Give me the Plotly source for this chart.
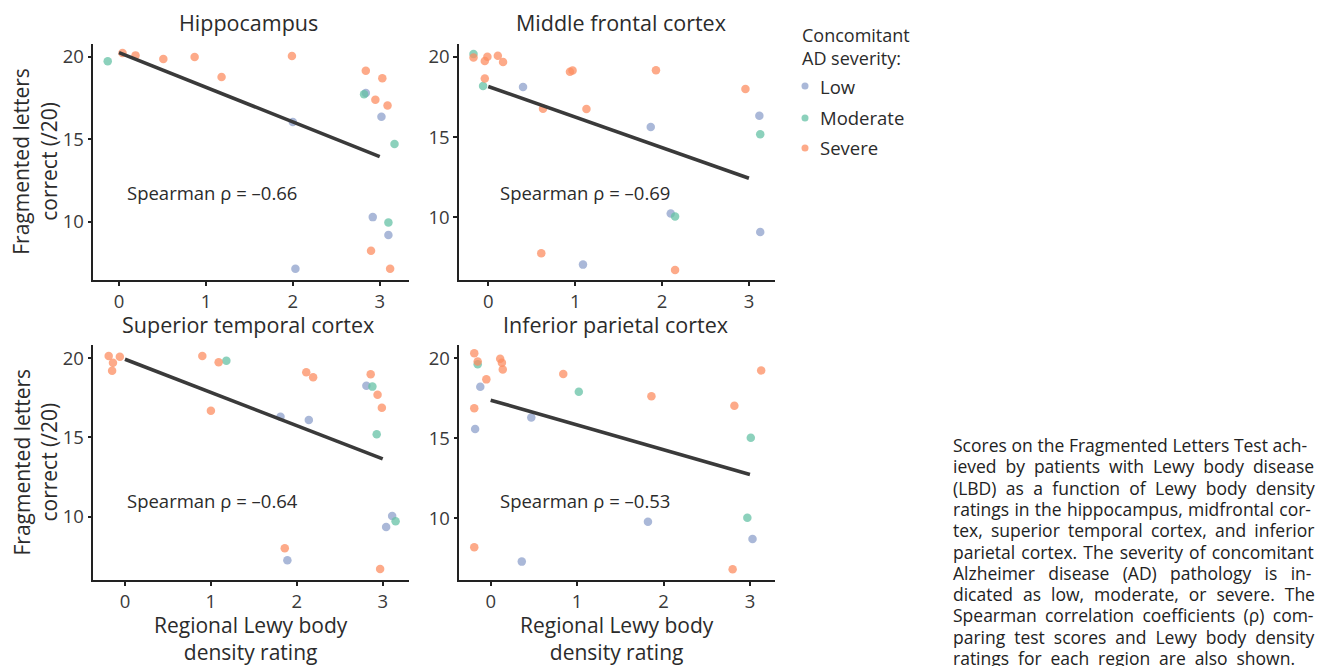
import plotly.graph_objects as go

# ---------------- data ----------------
panel_titles = ["Hippocampus", "Middle frontal cortex",
                "Superior temporal cortex", "Inferior parietal cortex"]
spearman_labels = ["Spearman ρ = –0.66", "Spearman ρ = –0.69",
                   "Spearman ρ = –0.64", "Spearman ρ = –0.53"]
severity_levels = ["Low", "Moderate", "Severe"]

hip_x = [-0.13, 0.04, 0.19, 0.51, 0.87, 1.18, 1.99, 2.00, 2.84, 3.03, 2.82,
         2.84, 2.95, 3.09, 3.02, 3.17, 2.92, 3.10, 3.10, 2.90, 2.03, 3.12]
hip_y = [19.72, 20.22, 20.08, 19.86, 19.98, 18.77, 20.04, 16.04, 19.15, 18.69, 17.72,
         17.80, 17.39, 17.05, 16.36, 14.71, 10.28, 9.96, 9.19, 8.24, 7.15, 7.15]
hip_sev = ["Moderate", "Severe", "Severe", "Severe", "Severe", "Severe", "Severe", "Low",
           "Severe", "Severe", "Moderate", "Low", "Severe", "Severe", "Low", "Moderate",
           "Low", "Moderate", "Low", "Severe", "Low", "Severe"]

mfc_x = [-0.17, -0.17, -0.01, -0.04, 0.11, 0.17, -0.04, -0.06, 0.40, 0.94, 0.97, 1.93,
         0.63, 1.13, 1.87, 2.96, 3.12, 3.13, 2.10, 2.15, 3.13, 0.61, 1.09, 2.15]
mfc_y = [20.19, 19.96, 20.02, 19.75, 20.08, 19.69, 18.65, 18.19, 18.13, 19.08, 19.15, 19.17,
         16.77, 16.75, 15.63, 18.00, 16.33, 15.17, 10.23, 10.04, 9.08, 7.75, 7.04, 6.71]
mfc_sev = ["Moderate", "Severe", "Severe", "Severe", "Severe", "Severe", "Severe", "Moderate",
           "Low", "Severe", "Severe", "Severe", "Severe", "Severe", "Low", "Severe",
           "Low", "Moderate", "Low", "Moderate", "Low", "Severe", "Low", "Severe"]

stc_x = [-0.19, -0.14, -0.15, -0.06, 0.90, 1.09, 1.18, 1.00, 2.11, 2.19, 1.81, 2.14,
         2.86, 2.81, 2.88, 2.94, 2.99, 2.93, 3.11, 3.15, 3.04, 1.86, 1.89, 2.97]
stc_y = [20.15, 19.72, 19.22, 20.10, 20.15, 19.75, 19.85, 16.69, 19.12, 18.80, 16.31, 16.10,
         18.99, 18.27, 18.21, 17.70, 16.88, 15.20, 10.04, 9.70, 9.34, 7.99, 7.24, 6.68]
stc_sev = ["Severe", "Severe", "Severe", "Severe", "Severe", "Severe", "Moderate", "Severe",
           "Severe", "Severe", "Low", "Low", "Severe", "Low", "Moderate", "Severe",
           "Severe", "Moderate", "Low", "Moderate", "Low", "Severe", "Low", "Severe"]

ipc_x = [-0.19, -0.15, -0.15, 0.11, 0.13, 0.14, -0.05, -0.12, -0.19, -0.18, 0.47, 0.84,
         1.02, 1.86, 2.82, 3.13, 3.01, 2.97, 1.82, 3.03, -0.19, 0.36, 2.80]
ipc_y = [20.33, 19.81, 19.63, 19.98, 19.73, 19.31, 18.69, 18.23, 16.89, 15.58, 16.31, 19.02,
         17.91, 17.64, 17.04, 19.25, 15.04, 10.04, 9.79, 8.71, 8.19, 7.29, 6.81]
ipc_sev = ["Severe", "Severe", "Moderate", "Severe", "Severe", "Severe", "Severe", "Low",
           "Severe", "Low", "Low", "Severe", "Moderate", "Severe", "Severe", "Severe",
           "Moderate", "Moderate", "Low", "Low", "Severe", "Low", "Severe"]

# linear fit lines (intercept, slope) over rating 0..3
fit_intercept = [20.25, 18.16, 19.94, 17.39]
fit_slope = [-2.10, -1.91, -2.10, -1.55]
fit_range = [0, 3]

legend_title = "Concomitant<br>AD severity:"

caption_lines = [
    "Scores on the Fragmented Letters Test ach-",
    "ieved by patients with Lewy body disease",
    "(LBD) as a function of Lewy body density",
    "ratings in the hippocampus, midfrontal cor-",
    "tex, superior temporal cortex, and inferior",
    "parietal cortex. The severity of concomitant",
    "Alzheimer disease (AD) pathology is in-",
    "dicated as low, moderate, or severe. The",
    "Spearman correlation coefficients (ρ) com-",
    "paring test scores and Lewy body density",
    "ratings for each region are also shown.",
]

# ---------------- styling ----------------
OFF = 8                      # page body margin
W, H = 1327 - OFF, 666 - OFF
FONT = "Open Sans"
TXT = "#2b2b2b"
colors = {"Low": "rgba(141,160,203,0.75)", "Moderate": "rgba(102,194,165,0.75)",
          "Severe": "rgba(252,141,98,0.75)"}


def PX(px):
    return (px - OFF) / W


def PY(py):
    return 1 - (py - OFF) / H


panels = [(hip_x, hip_y, hip_sev), (mfc_x, mfc_y, mfc_sev),
          (stc_x, stc_y, stc_sev), (ipc_x, ipc_y, ipc_sev)]

# reference-pixel boxes of the panels: (left, right, top, bottom)
boxes = [(93.3, 409, 43.5, 280), (459, 775, 43.5, 280),
         (93.3, 409, 345, 580), (459.3, 775, 345, 580)]
xranges = [[-0.296, 3.337], [-0.337, 3.30], [-0.369, 3.306], [-0.363, 3.29]]
yranges = [[6.47, 20.8], [6.08, 20.84], [5.99, 20.84], [6.14, 20.84]]
title_pos = [(248, 22), (621, 22), (247.5, 325), (615, 325)]
spearman_pos = [(125, 193), (498, 193), (125, 500), (498, 500)]

# caption typesetting: measured natural widths at 17px and target (justified) widths
CAP_SIZE = 17.5
cap_nat17 = [350, 325, 318, 347, 333, 343, 308, 319, 336, 325, 305]
cap_target = [361] * 10 + [340]

fig = go.Figure()
annotations = []
shapes = []
layout_axes = {}

for i, (xs, ys, sev) in enumerate(panels):
    n = "" if i == 0 else str(i + 1)
    xa, ya = "x" + n, "y" + n
    for lvl in severity_levels:
        px_ = [x for x, s in zip(xs, sev) if s == lvl]
        py_ = [y for y, s in zip(ys, sev) if s == lvl]
        fig.add_trace(go.Scatter(
            x=px_, y=py_, mode="markers", xaxis=xa, yaxis=ya,
            name=lvl, showlegend=False,
            marker=dict(color=colors[lvl], size=8.5, line=dict(width=0)),
        ))
    fx = fit_range
    fy = [fit_intercept[i] + fit_slope[i] * v for v in fx]
    fig.add_trace(go.Scatter(x=fx, y=fy, mode="lines", xaxis=xa, yaxis=ya,
                             showlegend=False, hoverinfo="skip",
                             line=dict(color="#3a3a3a", width=3.6)))
    l, r, t, b = boxes[i]
    axis_common = dict(showline=True, linecolor="#222", linewidth=1.5,
                       ticks="outside", ticklen=4, tickwidth=1.5, tickcolor="#222",
                       showgrid=False, zeroline=False,
                       tickfont=dict(family=FONT, size=18.5, color="#3a3a3a"))
    layout_axes["xaxis" + n] = dict(domain=[PX(l), PX(r)], range=xranges[i],
                                    anchor=ya, tickvals=[0, 1, 2, 3], **axis_common)
    layout_axes["yaxis" + n] = dict(domain=[PY(b), PY(t)], range=yranges[i],
                                    anchor=xa, tickvals=[10, 15, 20], **axis_common)
    # panel title
    tx, ty = title_pos[i]
    annotations.append(dict(text=panel_titles[i], xref="paper", yref="paper",
                            x=PX(tx), y=PY(ty), xanchor="center", yanchor="middle",
                            showarrow=False,
                            font=dict(family=FONT, size=21.5, color=TXT)))
    # spearman text
    sx, sy = spearman_pos[i]
    annotations.append(dict(text=spearman_labels[i], xref="paper", yref="paper",
                            x=PX(sx), y=PY(sy), xanchor="left", yanchor="middle",
                            showarrow=False,
                            font=dict(family=FONT, size=18.5, color=TXT)))
    # x axis titles for bottom row
    if i >= 2:
        annotations.append(dict(text="Regional Lewy body<br>density rating",
                                xref="paper", yref="paper",
                                x=PX((l + r) / 2), y=PY(638),
                                xanchor="center", yanchor="middle", showarrow=False,
                                font=dict(family=FONT, size=21, color=TXT)))
    # y axis titles for left column
    if i % 2 == 0:
        annotations.append(dict(text="Fragmented letters<br>correct (/20)",
                                xref="paper", yref="paper",
                                x=PX(35), y=PY((t + b) / 2), textangle=-90,
                                xanchor="center", yanchor="middle", showarrow=False,
                                font=dict(family=FONT, size=21, color=TXT)))

# ---- legend (drawn manually) ----
annotations.append(dict(text=legend_title, xref="paper", yref="paper",
                        x=PX(800), y=PY(46.5), xanchor="left", yanchor="middle",
                        align="left", showarrow=False,
                        font=dict(family=FONT, size=18, color=TXT)))
legend_y = [86, 118, 148]
for lvl, ly in zip(severity_levels, legend_y):
    shapes.append(dict(type="circle", xref="paper", yref="paper",
                       xsizemode="pixel", ysizemode="pixel",
                       xanchor=PX(805), yanchor=PY(ly),
                       x0=-3.5, x1=3.5, y0=-3.5, y1=3.5,
                       fillcolor=colors[lvl], line=dict(width=0)))
    annotations.append(dict(text=lvl, xref="paper", yref="paper",
                            x=PX(818), y=PY(ly), xanchor="left", yanchor="middle",
                            showarrow=False,
                            font=dict(family=FONT, size=18.5, color=TXT)))

# ---- caption, one annotation per line, justified with word spacing ----
for k, line in enumerate(caption_lines):
    nat = cap_nat17[k] * CAP_SIZE / 17
    nspace = line.count(" ")
    ws = max(0.0, (cap_target[k] - nat) / max(nspace, 1))
    annotations.append(dict(text=f'<span style="word-spacing:{ws:.2f}px">{line}</span>',
                            xref="paper", yref="paper",
                            x=PX(951), y=PY(445 + 21.3 * k),
                            xanchor="left", yanchor="middle", align="left",
                            showarrow=False,
                            font=dict(family=FONT, size=CAP_SIZE, color="#222")))

fig.update_layout(
    width=W, height=H, margin=dict(l=0, r=0, t=0, b=0),
    paper_bgcolor="white", plot_bgcolor="white",
    font=dict(family=FONT, color=TXT),
    showlegend=False,
    annotations=annotations,
    shapes=shapes,
    **layout_axes,
)

fig.write_html("out.html")
